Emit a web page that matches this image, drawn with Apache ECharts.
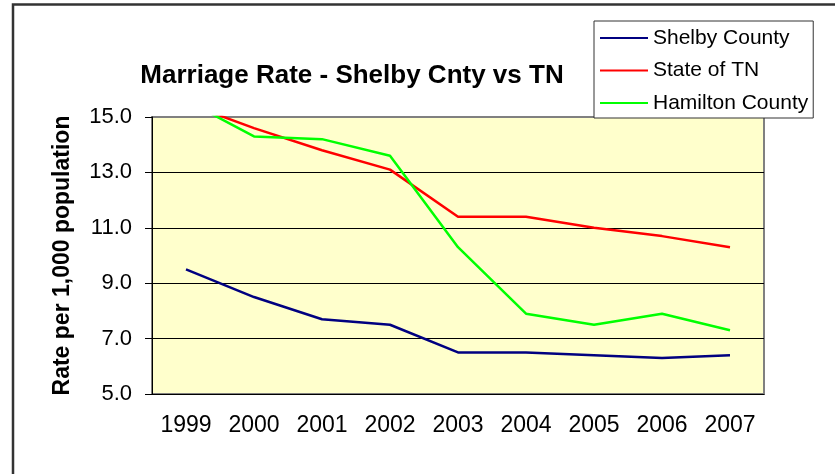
<!doctype html>
<html lang="en">
<head>
  <meta charset="UTF-8">
  <title>Marriage Rate</title>
  <style>
    html, body { margin: 0; padding: 0; background: #fff; }
  </style>
</head>
<body>
<div id="main" style="width: 835px;height: 474px"></div>
<script src="https://cdn.jsdelivr.net/npm/echarts@6/dist/echarts.min.js"></script>
<script>
    var years = ['1999', '2000', '2001', '2002', '2003', '2004', '2005', '2006', '2007'];
    var shelbyCounty = [9.5, 8.5, 7.7, 7.5, 6.5, 6.5, 6.4, 6.3, 6.4];
    var stateOfTN = [15.5, 14.6, 13.8, 13.1, 11.4, 11.4, 11.0, 10.7, 10.3];
    var hamiltonCounty = [15.6, 14.3, 14.2, 13.6, 10.3, 7.9, 7.5, 7.9, 7.3];

    var font = '"Liberation Sans", Arial, sans-serif';
    let myChart = echarts.init(document.querySelector('#main'));

    function lineSeries(name, data, color) {
        return {
            name: name,
            type: 'line',
            data: data,
            showSymbol: false,
            symbol: 'none',
            lineStyle: {color: color, width: 2.5},
            itemStyle: {color: color}
        };
    }

    myChart.setOption({
        animation: false,
        textStyle: {fontFamily: font},
        graphic: [{
            type: 'rect',
            shape: {x: 13, y: 4.5, width: 900, height: 600},
            style: {fill: 'none', stroke: '#333', lineWidth: 2.5},
            silent: true
        }],
        title: {
            text: 'Marriage Rate - Shelby Cnty vs TN',
            left: 352,
            textAlign: 'center',
            top: 63,
            padding: 0,
            textStyle: {fontFamily: font, fontSize: 26, fontWeight: 'bold', color: '#000'}
        },
        legend: {
            orient: 'vertical',
            left: 594,
            top: 21,
            padding: [5.5, 5, 3.5, 6],
            itemGap: 9.5,
            itemWidth: 48,
            itemHeight: 2,
            itemTextGap: 5,
            icon: 'rect',
            backgroundColor: '#fff',
            borderColor: '#333',
            borderWidth: 1,
            textStyle: {fontFamily: font, fontSize: 21, color: '#000', lineHeight: 23},
            data: ['Shelby County', 'State of TN', 'Hamilton County']
        },
        grid: {
            left: 152,
            right: 71,
            top: 117,
            bottom: 80,
            show: true,
            backgroundColor: '#FFFFCC',
            borderColor: '#808080',
            borderWidth: 2
        },
        xAxis: {
            type: 'category',
            data: years,
            boundaryGap: true,
            axisLine: {lineStyle: {color: '#000', width: 1}},
            axisTick: {length: 6, lineStyle: {color: '#000'}},
            axisLabel: {color: '#000', fontSize: 23, margin: 20, fontFamily: font},
            splitLine: {show: false}
        },
        yAxis: {
            type: 'value',
            min: 5,
            max: 15,
            interval: 2,
            name: 'Rate per 1,000 population',
            nameLocation: 'middle',
            nameGap: 78,
            nameTextStyle: {fontFamily: font, fontSize: 23, fontWeight: 'bold', color: '#000'},
            axisLine: {show: true, lineStyle: {color: '#000', width: 1}},
            axisTick: {show: true, length: 7, lineStyle: {color: '#000'}},
            axisLabel: {
                color: '#000', fontSize: 22, margin: 20, fontFamily: font,
                formatter: function (v) { return v.toFixed(1); }
            },
            splitLine: {
                show: true,
                lineStyle: {color: ['#000', '#000', '#000', '#000', '#000', '#808080'], width: 1}
            }
        },
        series: [
            lineSeries('Shelby County', shelbyCounty, '#000080'),
            lineSeries('State of TN', stateOfTN, '#FF0000'),
            lineSeries('Hamilton County', hamiltonCounty, '#00FF00')
        ]
    });
</script>
</body>
</html>
